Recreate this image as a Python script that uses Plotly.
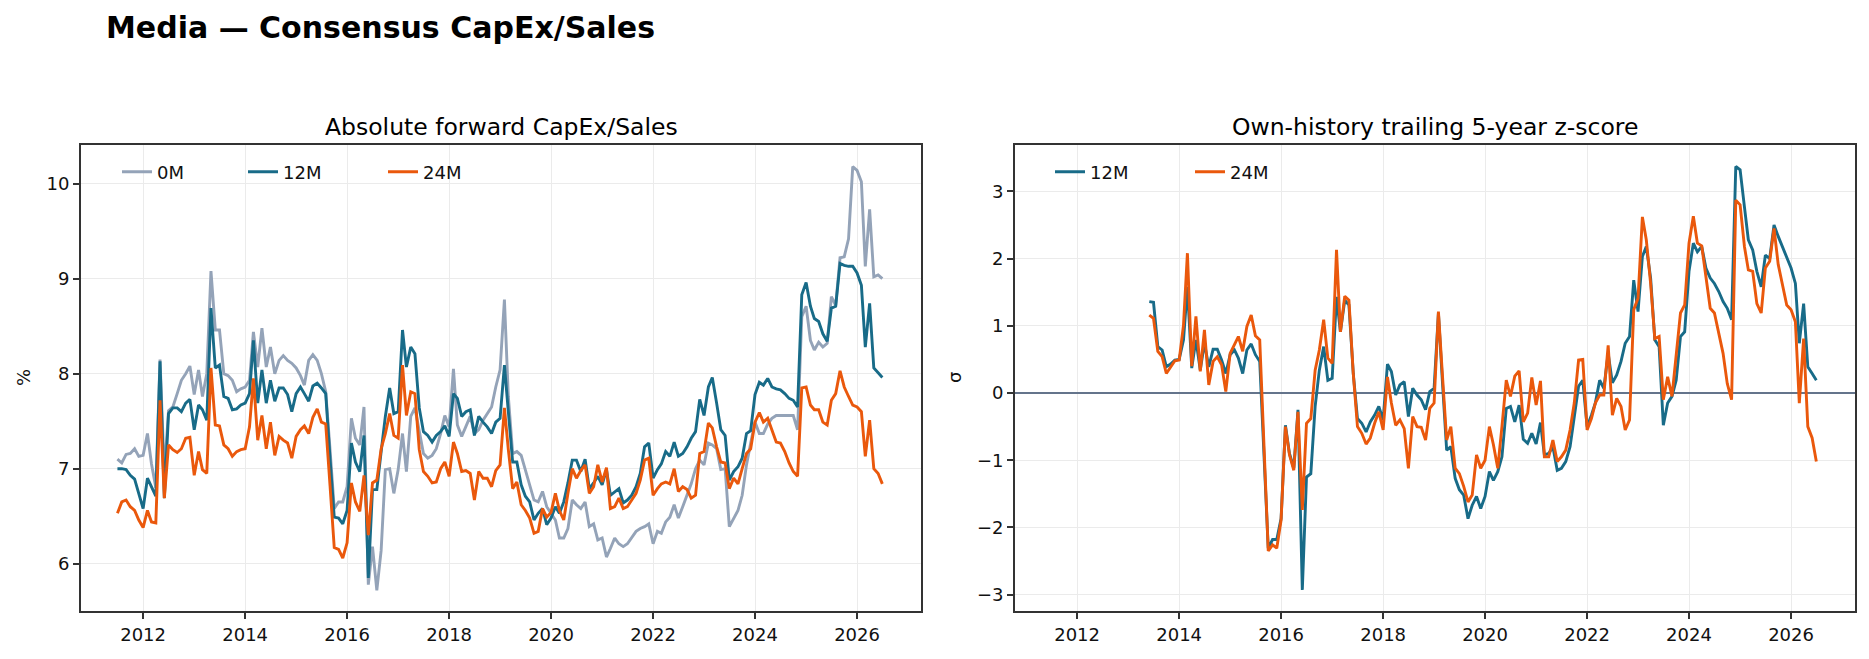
import pandas as pd
import plotly.graph_objects as go

# ---------------- data (monthly) ----------------
start_abs = "2011-07-01"   # first month of the absolute series
start_z = "2013-06-01"     # first month of the z-score series

capex_0m = [
    7.10, 7.06, 7.15, 7.16, 7.21, 7.13, 7.14, 7.37, 7.05, 6.80,
    8.15, 6.95, 7.61, 7.65, 7.79, 7.93, 8.00, 8.08, 7.78, 8.04,
    7.76, 8.00, 9.08, 8.46, 8.46, 8.00, 7.98, 7.93, 7.81, 7.84,
    7.86, 7.93, 8.44, 8.07, 8.48, 8.07, 8.28, 8.00, 8.14, 8.19,
    8.14, 8.11, 8.06, 7.98, 7.88, 8.14, 8.20, 8.14, 8.00, 7.81,
    7.20, 6.58, 6.65, 6.65, 6.81, 7.53, 7.32, 7.25, 7.65, 5.78,
    6.18, 5.72, 6.14, 6.99, 7.00, 6.74, 6.99, 7.37, 6.97, 7.55,
    7.64, 7.41, 7.16, 7.11, 7.14, 7.21, 7.37, 7.56, 7.44, 8.05,
    7.46, 7.34, 7.44, 7.55, 7.37, 7.41, 7.51, 7.58, 7.65, 7.86,
    8.04, 8.78, 7.76, 7.16, 7.18, 7.14, 6.99, 6.81, 6.67, 6.65,
    6.76, 6.60, 6.53, 6.46, 6.27, 6.27, 6.37, 6.67, 6.62, 6.58,
    6.65, 6.39, 6.42, 6.25, 6.27, 6.07, 6.16, 6.27, 6.21, 6.18,
    6.21, 6.27, 6.34, 6.37, 6.39, 6.42, 6.21, 6.34, 6.32, 6.44,
    6.49, 6.62, 6.48, 6.60, 6.72, 6.84, 7.00, 7.09, 7.04, 7.27,
    7.25, 7.21, 6.99, 7.00, 6.39, 6.48, 6.56, 6.72, 7.04, 7.27,
    7.49, 7.37, 7.37, 7.47, 7.53, 7.56, 7.56, 7.56, 7.56, 7.56,
    7.41, 8.60, 8.71, 8.35, 8.25, 8.33, 8.28, 8.32, 8.81, 8.72,
    9.22, 9.23, 9.42, 10.18, 10.14, 10.02, 9.13, 9.73, 9.02, 9.04,
    9.00,
]

capex_12m = [
    7.00, 7.00, 6.99, 6.93, 6.89, 6.74, 6.58, 6.90, 6.81, 6.71,
    8.13, 6.69, 7.58, 7.64, 7.64, 7.60, 7.69, 7.73, 7.41, 7.67,
    7.62, 7.51, 8.69, 8.06, 8.09, 7.76, 7.74, 7.62, 7.63, 7.67,
    7.69, 7.79, 8.35, 7.69, 8.04, 7.69, 7.93, 7.71, 7.85, 7.85,
    7.78, 7.60, 7.79, 7.86, 7.79, 7.71, 7.87, 7.90, 7.85, 7.79,
    7.10, 6.49, 6.48, 6.42, 6.56, 7.27, 7.07, 6.97, 7.35, 5.85,
    6.78, 6.78, 7.18, 7.55, 7.85, 7.58, 7.60, 8.46, 8.07, 8.28,
    8.21, 7.64, 7.39, 7.35, 7.28, 7.35, 7.39, 7.45, 7.34, 7.79,
    7.74, 7.55, 7.60, 7.62, 7.35, 7.55, 7.49, 7.44, 7.37, 7.49,
    7.53, 8.09, 7.60, 7.07, 7.07, 6.83, 6.71, 6.65, 6.46, 6.53,
    6.58, 6.41, 6.48, 6.60, 6.53, 6.65, 6.85, 7.09, 7.09, 6.97,
    7.10, 6.79, 6.85, 6.92, 6.83, 6.99, 6.72, 6.76, 6.79, 6.64,
    6.67, 6.72, 6.81, 6.95, 7.23, 7.27, 6.90, 6.99, 7.05, 7.18,
    7.13, 7.28, 7.13, 7.16, 7.23, 7.32, 7.39, 7.73, 7.56, 7.86,
    7.96, 7.69, 7.41, 7.35, 6.88, 6.97, 7.02, 7.11, 7.37, 7.40,
    7.78, 7.91, 7.88, 7.95, 7.86, 7.84, 7.83, 7.79, 7.74, 7.72,
    7.65, 8.83, 8.96, 8.71, 8.58, 8.55, 8.42, 8.34, 8.69, 8.71,
    9.16, 9.14, 9.13, 9.13, 9.06, 8.93, 8.28, 8.74, 8.06, 8.01,
    7.96,
]

capex_24m = [
    6.53, 6.65, 6.67, 6.60, 6.56, 6.46, 6.38, 6.56, 6.44, 6.43,
    7.72, 6.69, 7.25, 7.20, 7.17, 7.21, 7.32, 7.33, 6.93, 7.18,
    6.99, 6.95, 8.06, 7.46, 7.45, 7.25, 7.21, 7.13, 7.18, 7.20,
    7.21, 7.44, 7.95, 7.30, 7.56, 7.21, 7.49, 7.14, 7.34, 7.30,
    7.27, 7.11, 7.34, 7.41, 7.45, 7.37, 7.54, 7.63, 7.49, 7.47,
    6.82, 6.17, 6.15, 6.06, 6.22, 6.85, 6.65, 6.55, 6.93, 6.30,
    6.85, 6.88, 7.21, 7.37, 7.58, 7.35, 7.32, 8.09, 7.56, 7.81,
    7.79, 7.20, 6.97, 6.92, 6.85, 6.86, 7.00, 7.07, 6.92, 7.28,
    7.16, 6.97, 6.98, 6.95, 6.67, 6.97, 6.90, 6.90, 6.81, 6.98,
    7.04, 7.64, 7.20, 6.79, 6.86, 6.62, 6.56, 6.48, 6.32, 6.34,
    6.58, 6.49, 6.54, 6.74, 6.56, 6.46, 6.74, 7.00, 6.90, 6.98,
    7.04, 6.74, 6.81, 7.04, 6.86, 7.01, 6.58, 6.60, 6.69, 6.58,
    6.60, 6.67, 6.74, 6.88, 7.09, 7.11, 6.72, 6.79, 6.84, 6.86,
    6.84, 7.00, 6.76, 6.81, 6.78, 6.69, 6.72, 7.16, 7.18, 7.48,
    7.43, 7.23, 7.07, 7.06, 6.79, 6.90, 6.84, 7.00, 7.16, 7.21,
    7.49, 7.59, 7.49, 7.53, 7.41, 7.28, 7.27, 7.18, 7.06, 6.97,
    6.92, 7.85, 7.86, 7.67, 7.62, 7.62, 7.49, 7.46, 7.72, 7.79,
    8.03, 7.86, 7.76, 7.67, 7.65, 7.60, 7.13, 7.51, 7.00, 6.95,
    6.84,
]

z_12m = [
    1.36, 1.35, 0.69, 0.64, 0.39, 0.43, 0.49, 0.50, 0.79, 1.58,
    0.37, 0.79, 0.34, 0.74, 0.39, 0.65, 0.65, 0.49, 0.29, 0.57,
    0.64, 0.52, 0.29, 0.64, 0.73, 0.57, 0.47, -0.90, -2.31, -2.18,
    -2.18, -1.87, -0.48, -0.90, -1.12, -0.25, -2.93, -1.25, -1.20, -0.20,
    0.34, 0.69, 0.19, 0.22, 1.43, 0.91, 1.38, 1.31, 0.29, -0.38,
    -0.45, -0.58, -0.43, -0.33, -0.20, -0.40, 0.43, 0.32, -0.03, 0.12,
    0.17, -0.35, 0.07, -0.03, -0.10, -0.25, 0.02, 0.07, 1.19, 0.19,
    -0.85, -0.80, -1.27, -1.44, -1.52, -1.87, -1.67, -1.54, -1.72, -1.54,
    -1.17, -1.30, -1.17, -0.95, -0.23, -0.20, -0.43, -0.18, -0.69, -0.75,
    -0.60, -0.76, -0.44, -0.92, -0.90, -0.80, -1.15, -1.12, -1.02, -0.80,
    -0.38, 0.10, 0.19, -0.50, -0.33, -0.15, 0.19, 0.07, 0.59, 0.15,
    0.27, 0.47, 0.74, 0.84, 1.68, 1.21, 2.03, 2.18, 1.71, 0.79,
    0.69, -0.48, -0.15, -0.05, 0.19, 0.84, 0.91, 1.81, 2.23, 2.10,
    2.18, 1.86, 1.71, 1.63, 1.51, 1.36, 1.26, 1.09, 3.37, 3.32,
    2.77, 2.28, 2.13, 1.81, 1.58, 2.05, 2.00, 2.50, 2.33, 2.18,
    2.03, 1.86, 1.63, 0.74, 1.33, 0.39, 0.29, 0.19,
]

z_24m = [
    1.16, 1.11, 0.62, 0.54, 0.29, 0.39, 0.48, 0.49, 1.01, 2.08,
    0.40, 1.14, 0.32, 0.94, 0.12, 0.47, 0.54, 0.42, 0.02, 0.59,
    0.71, 0.84, 0.62, 0.99, 1.16, 0.85, 0.79, -0.80, -2.35, -2.26,
    -2.31, -1.89, -0.50, -0.92, -1.15, -0.28, -1.74, -0.45, -0.38, 0.34,
    0.64, 1.09, 0.52, 0.44, 2.13, 0.91, 1.44, 1.38, 0.29, -0.50,
    -0.60, -0.76, -0.67, -0.45, -0.28, -0.55, 0.24, -0.15, -0.48, -0.40,
    -0.53, -1.12, -0.35, -0.50, -0.51, -0.70, -0.23, -0.15, 1.21, 0.29,
    -0.70, -0.50, -1.12, -1.20, -1.39, -1.62, -1.52, -0.92, -1.12, -1.00,
    -0.50, -0.77, -1.12, -0.50, 0.19, -0.05, 0.25, 0.33, -0.43, -0.30,
    0.23, -0.18, 0.18, -0.95, -0.95, -0.70, -1.02, -0.95, -0.85, -0.55,
    -0.15, 0.49, 0.50, -0.55, -0.38, -0.15, -0.03, -0.03, 0.71, -0.33,
    -0.08, -0.20, -0.55, -0.40, 1.24, 1.41, 2.62, 2.28, 1.63, 0.81,
    0.84, -0.10, 0.24, -0.05, 0.54, 1.19, 1.31, 2.23, 2.63, 2.23,
    2.19, 1.73, 1.26, 1.19, 0.91, 0.59, 0.14, -0.10, 2.87, 2.80,
    2.18, 1.83, 1.81, 1.33, 1.19, 1.86, 1.96, 2.45, 1.91, 1.58,
    1.31, 1.24, 1.06, -0.15, 0.81, -0.50, -0.67, -1.02,
]

series_names = ["0M", "12M", "24M"]
x_tick_vals = ["2012-01-01", "2014-01-01", "2016-01-01", "2018-01-01",
               "2020-01-01", "2022-01-01", "2024-01-01", "2026-01-01"]
x_tick_text = ["2012", "2014", "2016", "2018", "2020", "2022", "2024", "2026"]
y1_ticks = [6, 7, 8, 9, 10]
y2_ticks = [-3, -2, -1, 0, 1, 2, 3]

dates_abs = pd.date_range(start_abs, periods=len(capex_0m), freq="MS")
dates_z = pd.date_range(start_z, periods=len(z_12m), freq="MS")

# ---------------- styling ----------------
W, H = 1869, 659
FONT = "DejaVu Sans"
C_0M, C_12M, C_24M = "#94a3b8", "#186b88", "#ea580c"
AXC = "#333333"
GRID = "#ebebeb"
LW = 2.9

def px(x):
    return x / W

def py(y):
    return 1 - y / H

fig = go.Figure()

fig.add_trace(go.Scatter(x=dates_abs, y=capex_0m, mode="lines", name=series_names[0],
                         line=dict(color=C_0M, width=LW), xaxis="x", yaxis="y", legend="legend"))
fig.add_trace(go.Scatter(x=dates_abs, y=capex_12m, mode="lines", name=series_names[1],
                         line=dict(color=C_12M, width=LW), xaxis="x", yaxis="y", legend="legend2"))
fig.add_trace(go.Scatter(x=dates_abs, y=capex_24m, mode="lines", name=series_names[2],
                         line=dict(color=C_24M, width=LW), xaxis="x", yaxis="y", legend="legend3"))
fig.add_trace(go.Scatter(x=dates_z, y=z_12m, mode="lines", name=series_names[1],
                         line=dict(color=C_12M, width=LW), xaxis="x2", yaxis="y2", legend="legend4"))
fig.add_trace(go.Scatter(x=dates_z, y=z_24m, mode="lines", name=series_names[2],
                         line=dict(color=C_24M, width=LW), xaxis="x2", yaxis="y2", legend="legend5"))

xcommon = dict(type="date", range=["2010-10-13", "2027-04-04"],
               tickvals=x_tick_vals, ticktext=x_tick_text,
               showgrid=True, gridcolor=GRID, gridwidth=1.3,
               showline=True, linecolor=AXC, linewidth=1.8, mirror=True,
               ticks="outside", ticklen=6, tickwidth=1.5, tickcolor=AXC,
               tickfont=dict(family=FONT, size=18, color="#111111"),
               zeroline=False)
ycommon = dict(showgrid=True, gridcolor=GRID, gridwidth=1.3,
               showline=True, linecolor=AXC, linewidth=1.8, mirror=True,
               ticks="outside", ticklen=6, tickwidth=1.5, tickcolor=AXC,
               tickfont=dict(family=FONT, size=18, color="#111111"))

y_dom = [48 / H, 514 / H]
fig.update_layout(
    width=W, height=H,
    margin=dict(l=0, r=0, t=0, b=0),
    paper_bgcolor="white", plot_bgcolor="white",
    font=dict(family=FONT, color="#111111"),
    xaxis=dict(domain=[px(81), px(921)], anchor="y", **xcommon),
    yaxis=dict(domain=y_dom, anchor="x", range=[5.502, 10.407],
               tickvals=y1_ticks, zeroline=False, **ycommon),
    xaxis2=dict(domain=[px(1015), px(1855)], anchor="y2", **xcommon),
    yaxis2=dict(domain=y_dom, anchor="x2", range=[-3.244, 3.69],
                tickvals=y2_ticks, zeroline=True, zerolinecolor="#64748b",
                zerolinewidth=2, **ycommon),
    showlegend=True,
)

leg_common = dict(orientation="h", yanchor="middle", xanchor="left",
                  bgcolor="rgba(0,0,0,0)", borderwidth=0,
                  font=dict(family=FONT, size=18, color="#111111"))
fig.update_layout(
    legend=dict(x=px(117), y=py(172), **leg_common),
    legend2=dict(x=px(243), y=py(172), **leg_common),
    legend3=dict(x=px(383), y=py(172), **leg_common),
    legend4=dict(x=px(1050), y=py(172), **leg_common),
    legend5=dict(x=px(1190), y=py(172), **leg_common),
)

annotations = [
    dict(text="<b>Media — Consensus CapEx/Sales</b>", x=px(104), y=py(28),
         xanchor="left", yanchor="middle", font=dict(family=FONT, size=30, color="#000000")),
    dict(text="Absolute forward CapEx/Sales", x=px(501), y=py(127),
         xanchor="center", yanchor="middle", font=dict(family=FONT, size=23.5, color="#000000")),
    dict(text="Own-history trailing 5-year z-score", x=px(1435), y=py(127),
         xanchor="center", yanchor="middle", font=dict(family=FONT, size=23.5, color="#000000")),
    dict(text="%", x=px(23), y=py(378), textangle=-90,
         xanchor="center", yanchor="middle", font=dict(family=FONT, size=18, color="#111111")),
    dict(text="σ", x=px(954), y=py(378), textangle=-90,
         xanchor="center", yanchor="middle", font=dict(family=FONT, size=18, color="#111111")),
]
for a in annotations:
    a.update(xref="paper", yref="paper", showarrow=False)
fig.update_layout(annotations=annotations)

fig.write_html("out.html")
